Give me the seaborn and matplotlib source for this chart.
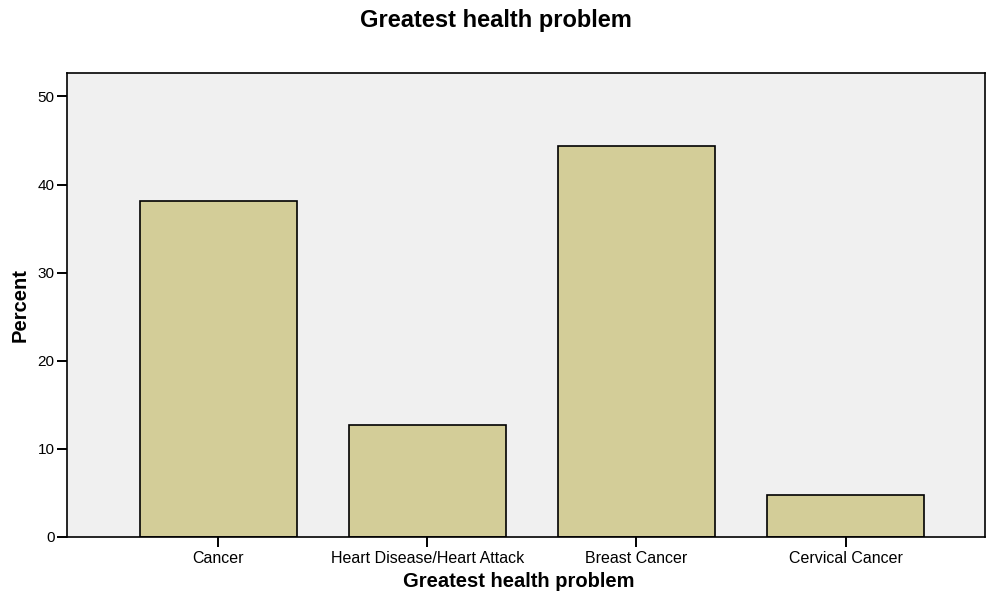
import matplotlib.pyplot as plt
import seaborn as sns
import pandas as pd


# --------------------------------------------------------------------------------------------------
# dados:

CATEGORIES = ["Cancer", "Heart Disease/Heart Attack", "Breast Cancer", "Cervical Cancer"]
PERCENT = [38.1, 12.7, 44.4, 4.8]

BAR_COLOR = "#d3cd98"
BG_COLOR = "#f0f0f0"


# --------------------------------------------------------------------------------------------------

sns.set_style("white")
plt.rcParams["font.family"] = ["Liberation Sans", "DejaVu Sans"]

df = pd.DataFrame({"problem": CATEGORIES, "percent": PERCENT})

fig = plt.figure(figsize=(9.86, 5.96), dpi=100)
ax = fig.add_axes([67 / 986, 1 - 537 / 596, (985 - 67) / 986, (537 - 73) / 596])
ax.set_facecolor(BG_COLOR)

sns.barplot(data=df, x="problem", y="percent", color=BAR_COLOR, edgecolor="black",
            linewidth=1.2, width=0.75, saturation=1, ax=ax)

ax.set_xlim(-0.722, 3.666)
ax.set_ylim(0, 52.66)
ax.set_yticks([0, 10, 20, 30, 40, 50])

for s in ax.spines.values():
    s.set_color("black")
    s.set_linewidth(1.2)

ax.tick_params(axis="both", bottom=True, left=True, direction="out", length=7,
               width=1.4, color="black", labelsize=11, labelcolor="black", pad=2)
ax.tick_params(axis="x", labelsize=11.5, pad=3)

ax.set_xlabel("Greatest health problem", fontsize=14.5, fontweight="bold",
              color="black", labelpad=6)
ax.xaxis.set_label_coords((519 - 67) / (985 - 67), -0.075)
ax.set_ylabel("Percent", fontsize=14.5, fontweight="bold", color="black", labelpad=6)
fig.text(496 / 986, 1 - 21 / 596, "Greatest health problem", ha="center", va="center",
         fontsize=17, fontweight="bold", color="black")

plt.savefig("out.png", dpi=100)
plt.close()
